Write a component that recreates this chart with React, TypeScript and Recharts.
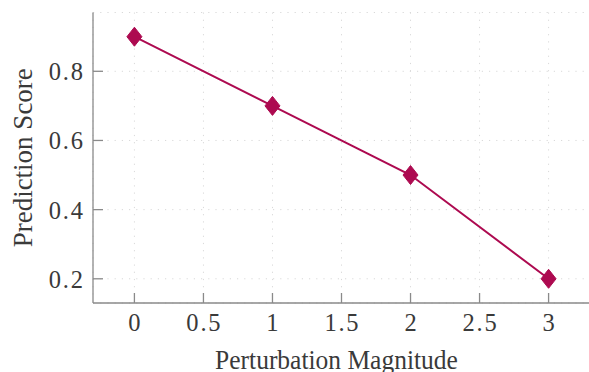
import { CartesianGrid, Label, Line, LineChart, XAxis, YAxis } from "recharts";

const magnitudes = [0, 1, 2, 3];
const scores = [0.9, 0.7, 0.5, 0.2];
const xTicks = [0, 0.5, 1, 1.5, 2, 2.5, 3];
const yTicks = [0.2, 0.4, 0.6, 0.8];

const data = magnitudes.map((m, i) => ({ magnitude: m, score: scores[i] }));

const FONT = "'Liberation Serif', 'DejaVu Serif', serif";
const FRAME = "#8a8a8a";
const TEXT = "#3a3a3a";
const MARK = "#ad0a50";
const TICK_LEN = 10;
const TICK_FONT = 24.5;
const TICK_SPACING = 1.8;

function BottomTick({ x, y, payload }: any) {
  return (
    <g>
      <line x1={x} x2={x} y1={y} y2={y - TICK_LEN} stroke={FRAME} strokeWidth={1.3} />
      <text
        x={x + TICK_SPACING / 2}
        y={y + 28}
        textAnchor="middle"
        fill={TEXT}
        fontSize={TICK_FONT}
        letterSpacing={TICK_SPACING}
        fontFamily={FONT}
      >
        {String(payload.value)}
      </text>
    </g>
  );
}

function TopTick({ x, y }: any) {
  return <line x1={x} x2={x} y1={y} y2={y + TICK_LEN} stroke={FRAME} strokeWidth={1.3} />;
}

function LeftTick({ x, y, payload }: any) {
  return (
    <g>
      <line x1={x} x2={x + TICK_LEN} y1={y} y2={y} stroke={FRAME} strokeWidth={1.3} />
      <text
        x={x - 10 + TICK_SPACING}
        y={y + 9}
        textAnchor="end"
        fill={TEXT}
        fontSize={TICK_FONT}
        letterSpacing={TICK_SPACING}
        fontFamily={FONT}
      >
        {payload.value.toFixed(1)}
      </text>
    </g>
  );
}

function RightTick({ x, y }: any) {
  return <line x1={x} x2={x - TICK_LEN} y1={y} y2={y} stroke={FRAME} strokeWidth={1.3} />;
}

function Diamond({ cx, cy }: any) {
  if (cx == null || cy == null) return null;
  return (
    <path
      d={`M${cx},${cy - 9.5} L${cx + 7.5},${cy} L${cx},${cy + 9.5} L${cx - 7.5},${cy} Z`}
      fill={MARK}
      stroke={MARK}
    />
  );
}

export default function App() {
  return (
    <div style={{ width: 589, height: 372, overflow: "hidden", background: "#fff" }}>
      <style>{`body { margin: 0; }`}</style>
      <LineChart
        width={592}
        height={372}
        data={data}
        margin={{ top: 12.5, right: 2, bottom: 0, left: 0 }}
      >
        <CartesianGrid stroke="#d9d9d9" strokeDasharray="1.2 6" strokeWidth={1} />
        <XAxis
          dataKey="magnitude"
          type="number"
          domain={[-0.3, 3.3]}
          ticks={xTicks}
          interval={0}
          allowDataOverflow
          height={69}
          tickSize={0}
          tickMargin={0}
          tickLine={false}
          axisLine={{ stroke: FRAME, strokeWidth: 1.3 }}
          tick={BottomTick}
        >
          <Label
            content={({ viewBox }: any) => {
              const cx = viewBox.x + viewBox.width / 2 - 5;
              const base = viewBox.y + 66;
              // glyphs run a little taller than the width suggests
              return (
                <text
                  x={cx}
                  y={base}
                  transform={`translate(0 ${base}) scale(1 1.1) translate(0 ${-base})`}
                  textAnchor="middle"
                  fill={TEXT}
                  fontSize={25.5}
                  fontFamily={FONT}
                >
                  Perturbation Magnitude
                </text>
              );
            }}
          />
        </XAxis>
        <XAxis
          xAxisId="top"
          dataKey="magnitude"
          type="number"
          orientation="top"
          domain={[-0.3, 3.3]}
          ticks={xTicks}
          interval={0}
          allowDataOverflow
          height={0}
          tickSize={0}
          tickMargin={0}
          tickLine={false}
          axisLine={{ stroke: FRAME, strokeWidth: 1.3 }}
          tick={TopTick}
        />
        <YAxis
          type="number"
          domain={[0.13, 0.97]}
          ticks={yTicks}
          interval={0}
          allowDataOverflow
          width={93}
          tickSize={0}
          tickMargin={0}
          tickLine={false}
          axisLine={{ stroke: FRAME, strokeWidth: 1.3 }}
          tick={LeftTick}
        >
          <Label
            content={({ viewBox }: any) => {
              const cx = 32;
              const cy = viewBox.y + viewBox.height / 2;
              return (
                <text
                  x={cx}
                  y={cy}
                  transform={`rotate(-90 ${cx} ${cy})`}
                  textAnchor="middle"
                  fill={TEXT}
                  fontSize={27}
                  fontFamily={FONT}
                >
                  Prediction Score
                </text>
              );
            }}
          />
        </YAxis>
        <YAxis
          yAxisId="right"
          orientation="right"
          type="number"
          domain={[0.13, 0.97]}
          ticks={yTicks}
          interval={0}
          allowDataOverflow
          width={0}
          tickSize={0}
          tickMargin={0}
          tickLine={false}
          axisLine={{ stroke: FRAME, strokeWidth: 1.3 }}
          tick={RightTick}
        />
        <Line
          type="linear"
          dataKey="score"
          stroke={MARK}
          strokeWidth={2}
          dot={Diamond}
          activeDot={false}
          isAnimationActive={false}
        />
      </LineChart>
    </div>
  );
}
